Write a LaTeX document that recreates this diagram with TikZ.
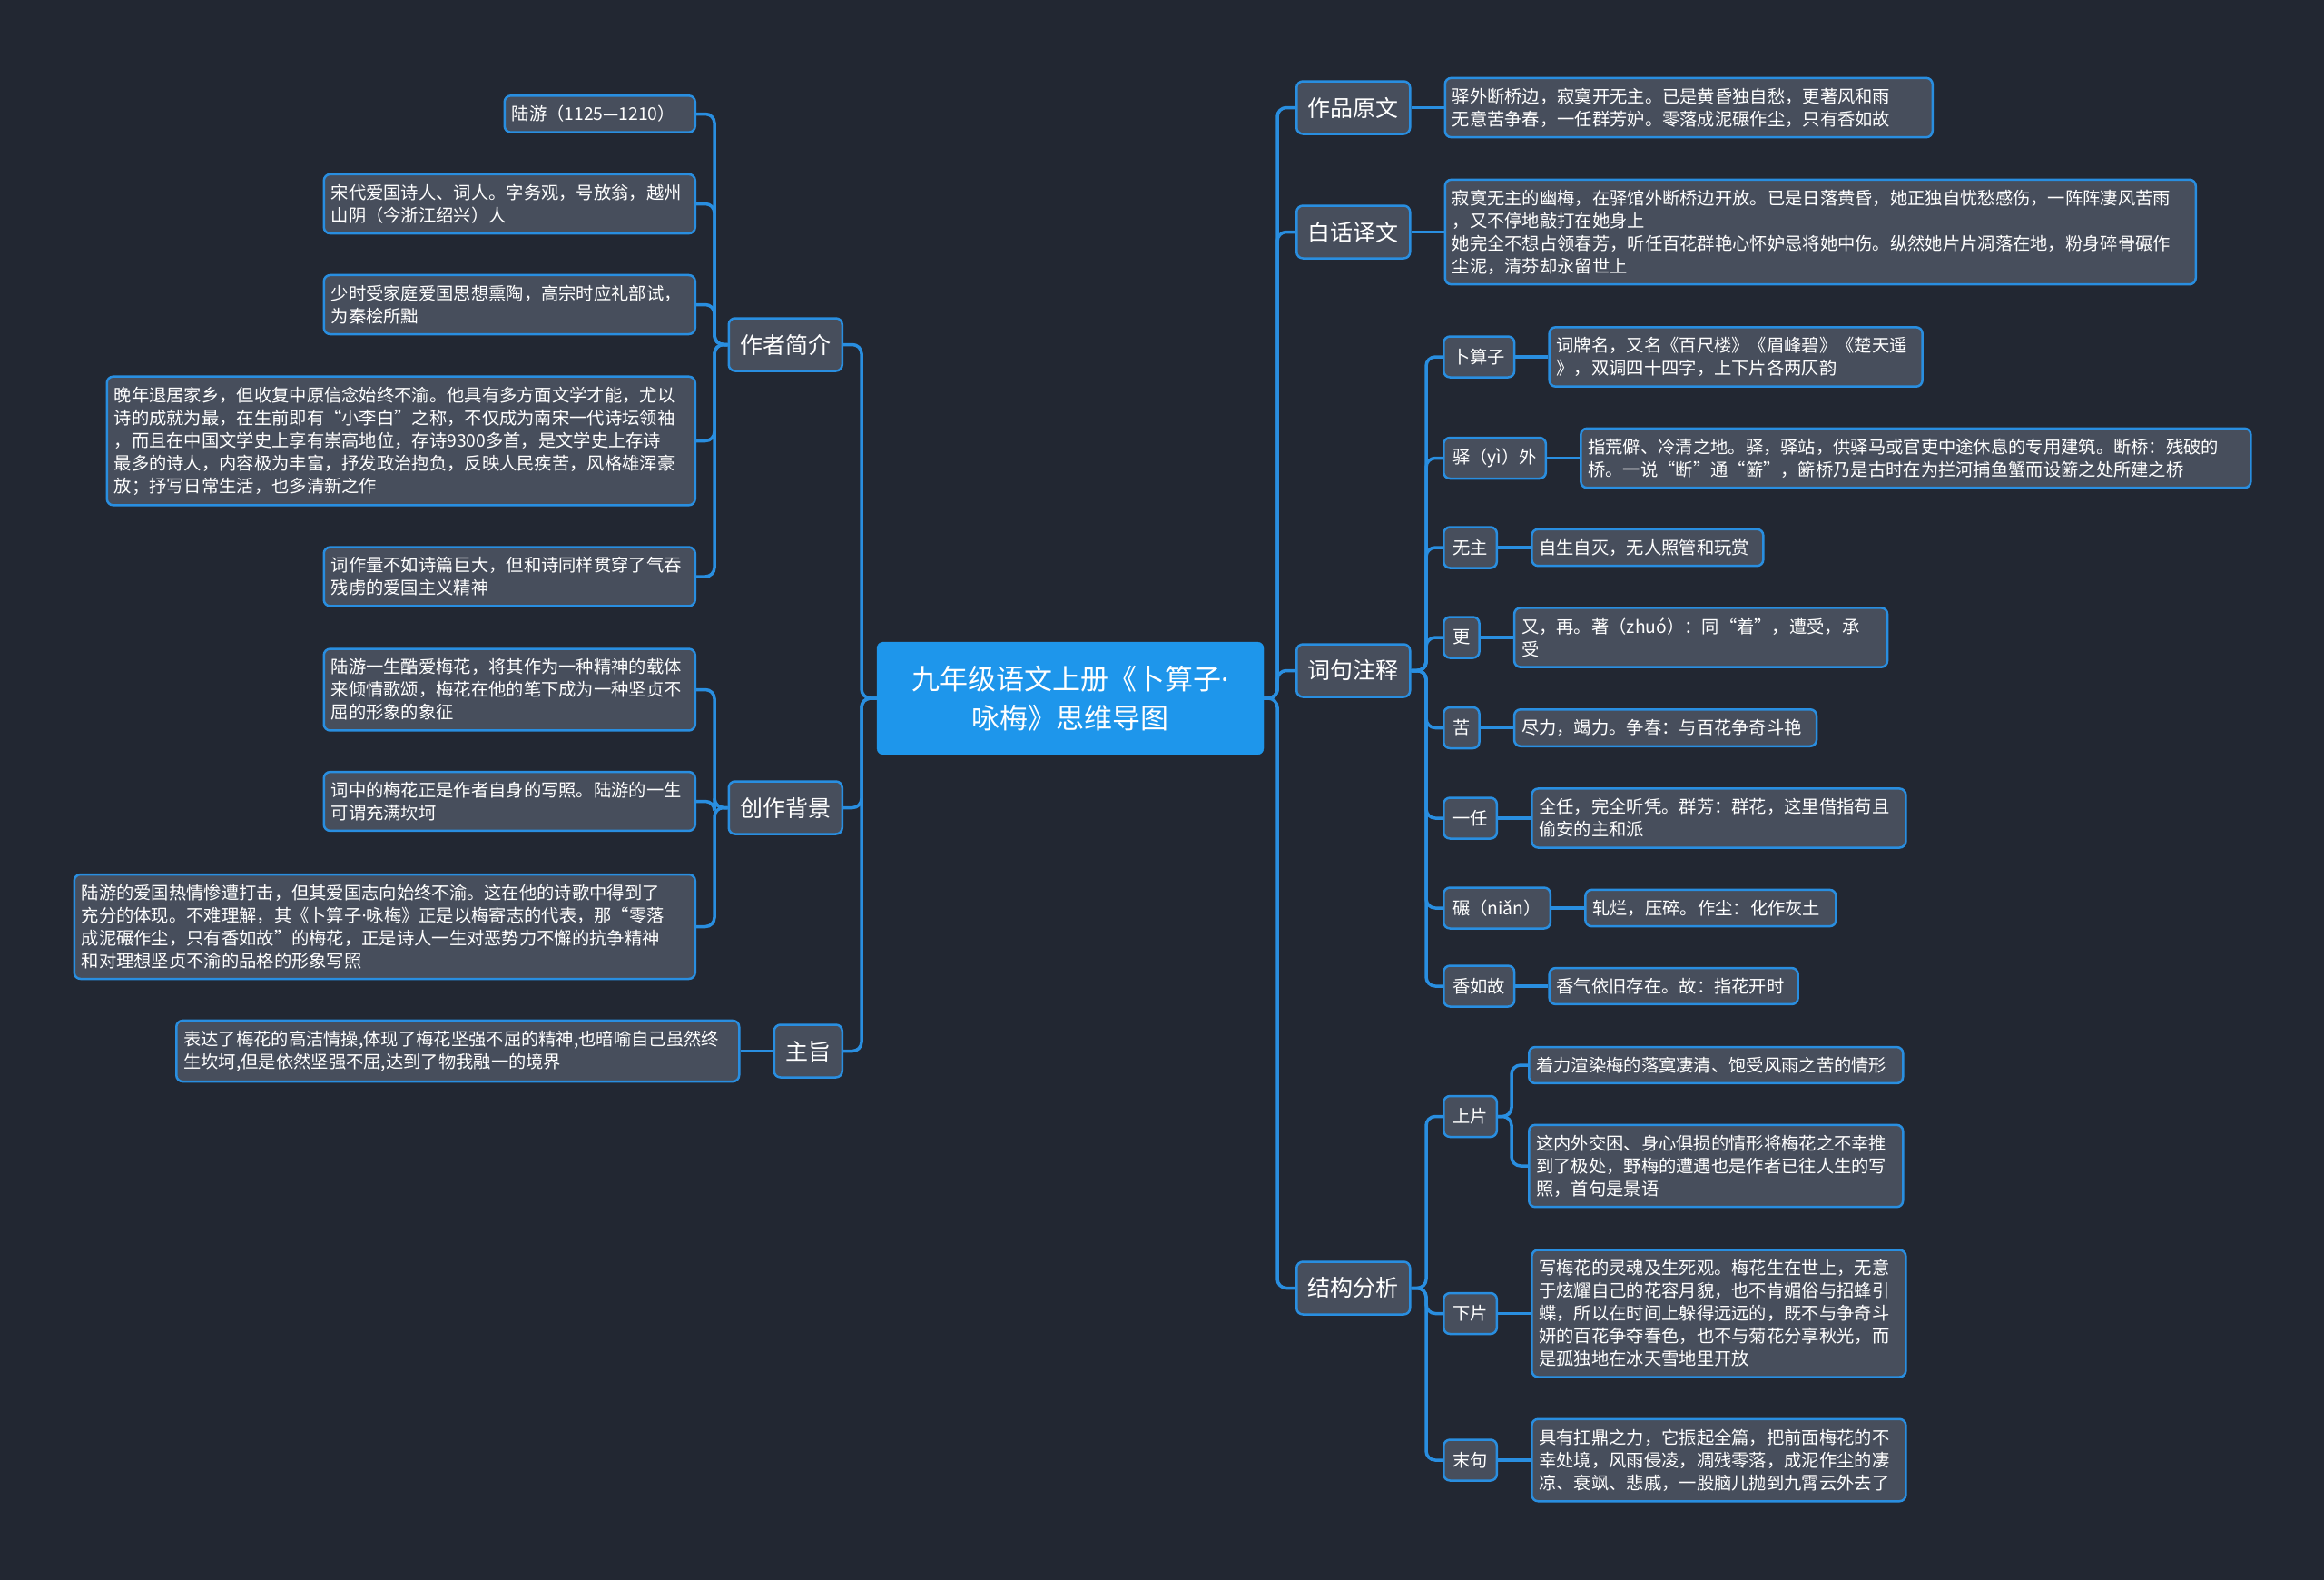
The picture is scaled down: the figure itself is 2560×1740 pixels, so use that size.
\documentclass[tikz,border=0pt]{standalone}
\usepackage{fontspec}
\setmainfont{Noto Sans CJK SC}
\newfontfamily\latinfont{Noto Sans}
\newcommand\middot{{\latinfont ·}}
\usetikzlibrary{positioning}
\definecolor{bgdark}{RGB}{34,39,50}
\definecolor{boxgray}{RGB}{71,78,92}
\definecolor{edgeblue}{RGB}{41,142,224}
\definecolor{rootblue}{RGB}{30,150,235}

\begin{document}
\begin{tikzpicture}[x=1pt, y=-1pt,
    mainbox/.style={rectangle, fill=rootblue, draw=rootblue, rounded corners=7pt,
      text=white, align=center, minimum width=426pt, minimum height=124pt,
      font=\fontsize{31}{43}\selectfont},
    topic/.style={rectangle, fill=boxgray, draw=edgeblue, line width=2.5pt,
      rounded corners=7pt, text=white, inner xsep=12.5pt, minimum height=58pt,
      font=\fontsize{25}{30}\selectfont},
    subtopic/.style={topic, inner xsep=10pt, minimum height=45pt,
      font=\fontsize{19.3}{25}\selectfont},
    leaf/.style={subtopic, align=left, inner xsep=8pt, inner ysep=11pt,
      minimum height=0pt, text width=#1pt},
    link/.style={draw=edgeblue, line width=3.5pt, rounded corners=10pt}
  ]
    \fill[bgdark] (0,0) rectangle (2560,1740);
    \useasboundingbox (0,0) rectangle (2560,1740);

    % trunks
    \coordinate (ltrunk) at (949,769);
    \coordinate (rtrunk) at (1407,769);
    \coordinate (biotrunk) at (787,0);
    \coordinate (notetrunk) at (1571,0);
    \coordinate (uptrunk) at (1665,0);

    \node[mainbox] (root) at (1179,769) {九年级语文上册《卜算子\middot\\咏梅》思维导图};

    % left side
    \node[topic, anchor=east] (bio)   at (929,379.5)  {作者简介};
    \node[topic, anchor=east] (bg)    at (929,889.5)  {创作背景};
    \node[topic, anchor=east] (theme) at (929,1157.5) {主旨};

    \node[leaf=194, anchor=east] (bio1) at (767,125.5) {陆游（1125—1210）};
    \node[leaf=393, anchor=east] (bio2) at (767,224.5)
      {宋代爱国诗人、词人。字务观，号放翁，越州\\山阴（今浙江绍兴）人};
    \node[leaf=393, anchor=east] (bio3) at (767,335.5)
      {少时受家庭爱国思想熏陶，高宗时应礼部试，\\为秦桧所黜};
    \node[leaf=632, anchor=east] (bio4) at (767,485.5)
      {晚年退居家乡，但收复中原信念始终不渝。他具有多方面文学才能，尤以\\诗的成就为最，在生前即有“小李白”之称，不仅成为南宋一代诗坛领袖\\，而且在中国文学史上享有崇高地位，存诗9300多首，是文学史上存诗\\最多的诗人，内容极为丰富，抒发政治抱负，反映人民疾苦，风格雄浑豪\\放；抒写日常生活，也多清新之作};
    \node[leaf=393, anchor=east] (bio5) at (767,635)
      {词作量不如诗篇巨大，但和诗同样贯穿了气吞\\残虏的爱国主义精神};

    \node[leaf=393, anchor=east] (bg1) at (767,759.5)
      {陆游一生酷爱梅花，将其作为一种精神的载体\\来倾情歌颂，梅花在他的笔下成为一种坚贞不\\屈的形象的象征};
    \node[leaf=393, anchor=east] (bg2) at (767,882.5)
      {词中的梅花正是作者自身的写照。陆游的一生\\可谓充满坎坷};
    \node[leaf=668, anchor=east] (bg3) at (767,1020.5)
      {陆游的爱国热情惨遭打击，但其爱国志向始终不渝。这在他的诗歌中得到了\\充分的体现。不难理解，其《卜算子\middot 咏梅》正是以梅寄志的代表，那“零落\\成泥碾作尘，只有香如故”的梅花，正是诗人一生对恶势力不懈的抗争精神\\和对理想坚贞不渝的品格的形象写照};

    \node[leaf=604, left=36pt of theme] (theme1)
      {表达了梅花的高洁情操,体现了梅花坚强不屈的精神,也暗喻自己虽然终\\生坎坷,但是依然坚强不屈,达到了物我融一的境界};

    % right side
    \node[topic, anchor=west] (orig)   at (1427,118.5)  {作品原文};
    \node[topic, anchor=west] (trans)  at (1427,255.5)  {白话译文};
    \node[topic, anchor=west] (notes)  at (1427,738.5)  {词句注释};
    \node[topic, anchor=west] (struct) at (1427,1418.5) {结构分析};

    \node[leaf=521, right=36pt of orig] (orig1)
      {驿外断桥边，寂寞开无主。已是黄昏独自愁，更著风和雨\\无意苦争春，一任群芳妒。零落成泥碾作尘，只有香如故};
    \node[leaf=811, right=36pt of trans] (trans1)
      {寂寞无主的幽梅，在驿馆外断桥边开放。已是日落黄昏，她正独自忧愁感伤，一阵阵凄风苦雨\\，又不停地敲打在她身上\\她完全不想占领春芳，听任百花群艳心怀妒忌将她中伤。纵然她片片凋落在地，粉身碎骨碾作\\尘泥，清芬却永留世上};

    \node[subtopic, anchor=west] (n1) at (1589,393)    {卜算子};
    \node[subtopic, anchor=west] (n2) at (1589,504.5)  {驿（yì）外};
    \node[subtopic, anchor=west] (n3) at (1589,603)    {无主};
    \node[subtopic, anchor=west] (n4) at (1589,702)    {更};
    \node[subtopic, anchor=west] (n5) at (1589,801.5)  {苦};
    \node[subtopic, anchor=west] (n6) at (1589,901)    {一任};
    \node[subtopic, anchor=west] (n7) at (1589,1000)   {碾（niǎn）};
    \node[subtopic, anchor=west] (n8) at (1589,1086)   {香如故};

    \node[leaf=395, right=36pt of n1] (n1t)
      {词牌名，又名《百尺楼》《眉峰碧》《楚天遥\\》，双调四十四字，上下片各两仄韵};
    \node[leaf=722, right=36pt of n2] (n2t)
      {指荒僻、冷清之地。驿，驿站，供驿马或官吏中途休息的专用建筑。断桥：残破的\\桥。一说“断”通“簖”，簖桥乃是古时在为拦河捕鱼蟹而设簖之处所建之桥};
    \node[leaf=239, right=36pt of n3] (n3t) {自生自灭，无人照管和玩赏};
    \node[leaf=395, right=36pt of n4] (n4t) {又，再。著（zhuó）：同“着”，遭受，承\\受};
    \node[leaf=317, right=36pt of n5] (n5t) {尽力，竭力。争春：与百花争奇斗艳};
    \node[leaf=396, right=36pt of n6] (n6t)
      {全任，完全听凭。群芳：群花，这里借指苟且\\偷安的主和派};
    \node[leaf=260, right=36pt of n7] (n7t) {轧烂，压碎。作尘：化作灰土};
    \node[leaf=258, right=36pt of n8] (n8t) {香气依旧存在。故：指花开时};

    \node[subtopic, anchor=west] (s1) at (1589,1229.5) {上片};
    \node[subtopic, anchor=west] (s2) at (1589,1446.5) {下片};
    \node[subtopic, anchor=west] (s3) at (1589,1608)   {末句};

    \node[leaf=396, anchor=west] (s1a) at (1683,1173)
      {着力渲染梅的落寞凄清、饱受风雨之苦的情形};
    \node[leaf=396, anchor=west] (s1b) at (1683,1284)
      {这内外交困、身心俱损的情形将梅花之不幸推\\到了极处，野梅的遭遇也是作者已往人生的写\\照，首句是景语};
    \node[leaf=396, right=36pt of s2] (s2a)
      {写梅花的灵魂及生死观。梅花生在世上，无意\\于炫耀自己的花容月貌，也不肯媚俗与招蜂引\\蝶，所以在时间上躲得远远的，既不与争奇斗\\妍的百花争夺春色，也不与菊花分享秋光，而\\是孤独地在冰天雪地里开放};
    \node[leaf=396, right=36pt of s3] (s3a)
      {具有扛鼎之力，它振起全篇，把前面梅花的不\\幸处境，风雨侵凌，凋残零落，成泥作尘的凄\\凉、衰飒、悲戚，一股脑儿抛到九霄云外去了};

    % connectors, left
    \draw[link] (root.west) -- (ltrunk) |- (bio.east);
    \draw[link] (root.west) -- (ltrunk) |- (bg.east);
    \draw[link] (root.west) -- (ltrunk) |- (theme.east);
    \draw[link] (bio.west) -- (bio.west -| biotrunk) |- (bio1.east);
    \draw[link] (bio.west) -- (bio.west -| biotrunk) |- (bio2.east);
    \draw[link] (bio.west) -- (bio.west -| biotrunk) |- (bio3.east);
    \draw[link] (bio.west) -- (bio.west -| biotrunk) |- (bio4.east);
    \draw[link] (bio.west) -- (bio.west -| biotrunk) |- (bio5.east);
    \draw[link] (bg.west) -- (bg.west -| biotrunk) |- (bg1.east);
    \draw[link] (bg.west) -- (bg.west -| biotrunk) |- (bg2.east);
    \draw[link] (bg.west) -- (bg.west -| biotrunk) |- (bg3.east);
    \draw[link] (theme.west) -- (theme1.east);

    % connectors, right
    \draw[link] (root.east) -- (rtrunk) |- (orig.west);
    \draw[link] (root.east) -- (rtrunk) |- (trans.west);
    \draw[link] (root.east) -- (rtrunk) |- (notes.west);
    \draw[link] (root.east) -- (rtrunk) |- (struct.west);
    \draw[link] (orig.east) -- (orig1.west);
    \draw[link] (trans.east) -- (trans1.west);
    \draw[link] (notes.east) -- (notes.east -| notetrunk) |- (n1.west);
    \draw[link] (notes.east) -- (notes.east -| notetrunk) |- (n2.west);
    \draw[link] (notes.east) -- (notes.east -| notetrunk) |- (n3.west);
    \draw[link] (notes.east) -- (notes.east -| notetrunk) |- (n4.west);
    \draw[link] (notes.east) -- (notes.east -| notetrunk) |- (n5.west);
    \draw[link] (notes.east) -- (notes.east -| notetrunk) |- (n6.west);
    \draw[link] (notes.east) -- (notes.east -| notetrunk) |- (n7.west);
    \draw[link] (notes.east) -- (notes.east -| notetrunk) |- (n8.west);
    \draw[link] (n1.east) -- (n1t.west);
    \draw[link] (n2.east) -- (n2t.west);
    \draw[link] (n3.east) -- (n3t.west);
    \draw[link] (n4.east) -- (n4t.west);
    \draw[link] (n5.east) -- (n5t.west);
    \draw[link] (n6.east) -- (n6t.west);
    \draw[link] (n7.east) -- (n7t.west);
    \draw[link] (n8.east) -- (n8t.west);
    \draw[link] (struct.east) -- (struct.east -| notetrunk) |- (s1.west);
    \draw[link] (struct.east) -- (struct.east -| notetrunk) |- (s2.west);
    \draw[link] (struct.east) -- (struct.east -| notetrunk) |- (s3.west);
    \draw[link] (s1.east) -- (s1.east -| uptrunk) |- (s1a.west);
    \draw[link] (s1.east) -- (s1.east -| uptrunk) |- (s1b.west);
    \draw[link] (s2.east) -- (s2a.west);
    \draw[link] (s3.east) -- (s3a.west);
  \end{tikzpicture}
\end{document}
